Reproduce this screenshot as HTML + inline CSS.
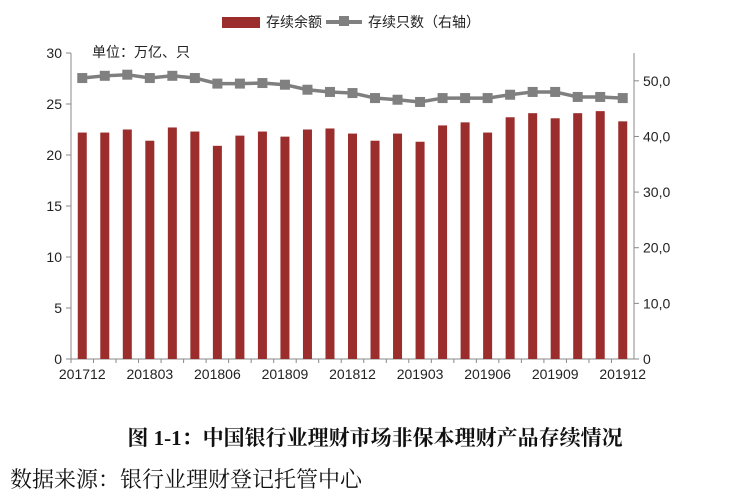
<!DOCTYPE html>
<html><head><meta charset="utf-8"><style>
body{margin:0;background:#fff;width:750px;height:499px;overflow:hidden}
svg text{font-family:"Liberation Sans","Noto Sans CJK SC",sans-serif}
</style></head><body>
<svg id="c" width="750" height="499"></svg>
<script>
const categories=["201712","201801","201802","201803","201804","201805","201806","201807","201808","201809","201810","201811","201812","201901","201902","201903","201904","201905","201906","201907","201908","201909","201910","201911","201912"];
const balance=[22.2,22.2,22.5,21.4,22.7,22.3,20.9,21.9,22.3,21.8,22.5,22.6,22.1,21.4,22.1,21.3,22.9,23.2,22.2,23.7,24.1,23.6,24.1,24.3,23.3];
const counts=[50.5,50.9,51.1,50.5,50.9,50.5,49.5,49.5,49.6,49.3,48.4,48.0,47.8,46.9,46.6,46.2,46.9,46.9,46.9,47.5,48.0,48.0,47.1,47.1,46.9];
const leftTicks=[0,5,10,15,20,25,30];
const rightTicks=["0","10,0","20,0","30,0","40,0","50,0"];
const NS="http://www.w3.org/2000/svg",s=document.getElementById('c');
function el(t,a,p){const e=document.createElementNS(NS,t);for(const k in a)e.setAttribute(k,a[k]);(p||s).appendChild(e);return e;}
const X0=71,X1=634,Y0=359,Y1=53;
const step=(X1-X0)/categories.length;
const xc=i=>X0+step*(i+0.5);
const yL=v=>Y0-(v/30)*(Y0-Y1);
const yR=v=>Y0-(v/55)*(Y0-Y1);
let a=el('line',{x1:X0,y1:Y1,x2:X0,y2:Y0,stroke:'#888'});
a=el('line',{x1:X1,y1:Y1,x2:X1,y2:Y0,stroke:'#888'});
a=el('line',{x1:X0,y1:Y0,x2:X1,y2:Y0,stroke:'#888'});
leftTicks.forEach(v=>{const y=yL(v);el('line',{x1:X0-5,y1:y,x2:X0,y2:y,stroke:'#888'});
const t=el('text',{x:X0-9,y:y+5,'text-anchor':'end','font-size':14,fill:'#222'});t.textContent=v;
});
rightTicks.forEach((v,i)=>{const y=yR(i*10);el('line',{x1:X1,y1:y,x2:X1+5,y2:y,stroke:'#888'});
const t=el('text',{x:X1+9,y:y+5,'font-size':14,fill:'#222'});t.textContent=v;
});
categories.forEach((c,i)=>{el('line',{x1:X0+step*i,y1:Y0,x2:X0+step*i,y2:Y0+4,stroke:'#888'});
if(i%3===0){const t=el('text',{x:xc(i),y:Y0+20,'text-anchor':'middle','font-size':14,fill:'#222'});t.textContent=c;
}});
balance.forEach((v,i)=>{const b=el('rect',{x:xc(i)-4.5,y:yL(v),width:9,height:Y0-yL(v),fill:'#9b2d2c'});
});
const pl=el('polyline',{points:counts.map((v,i)=>xc(i)+','+yR(v)).join(' '),fill:'none',stroke:'#7f7f7f','stroke-width':3.5});

counts.forEach((v,i)=>{const m=el('rect',{x:xc(i)-5,y:yR(v)-5,width:10,height:10,fill:'#808080'});
});
</script>
<div style="position:absolute;left:222px;top:12px;font:14px 'Liberation Sans','Noto Sans CJK SC',sans-serif;color:#222;display:flex;align-items:center">
<span style="display:inline-block;width:38px;height:11px;background:#9b2d2c;margin-right:6px"></span><span>存续余额</span>
<span style="display:inline-block;position:relative;width:36px;height:4px;background:#808080;margin:0 6px 0 4px"><span style="position:absolute;left:13px;top:-4px;width:10px;height:10px;background:#808080"></span></span><span>存续只数（右轴）</span></div>
<div style="position:absolute;left:92px;top:42px;font:14px 'Liberation Sans','Noto Sans CJK SC',sans-serif;color:#222">单位：万亿、只</div>
<div style="position:absolute;left:0;width:750px;text-align:center;top:422px;font:bold 21px 'Liberation Serif','Noto Serif CJK SC',serif;color:#111">图 1-1：中国银行业理财市场非保本理财产品存续情况</div>
<div style="position:absolute;left:10px;top:463px;font:22px 'Liberation Serif','Noto Serif CJK SC',serif;color:#111">数据来源：银行业理财登记托管中心</div>
</body></html>
